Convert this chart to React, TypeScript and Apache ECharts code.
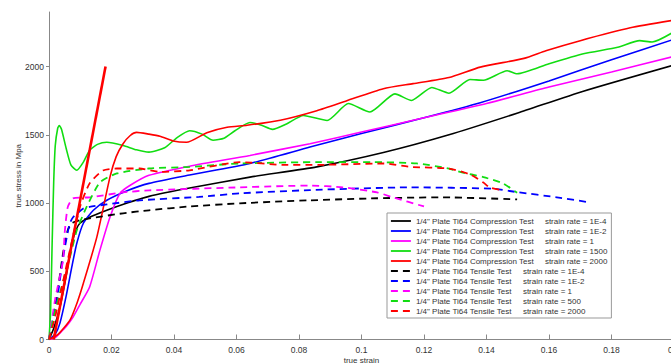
import React, { useEffect, useRef } from "react";
import * as echarts from "echarts";

type Pt = [number, number];

// true strain / true stress (MPa) pairs for each test
const compression1E4: Pt[] = [
  [0, 0], [0.0015, 80], [0.0035, 237], [0.0055, 470], [0.0073, 705], [0.0088, 810], [0.0099, 852],
  [0.013, 896], [0.0185, 947], [0.025, 1000], [0.032, 1049], [0.045, 1110], [0.0643, 1190],
  [0.0857, 1265], [0.107, 1370], [0.128, 1500], [0.15, 1660], [0.171, 1820], [0.2, 2012],
];
const compression1E2: Pt[] = [
  [0, 0], [0.002, 40], [0.0035, 120], [0.0055, 320], [0.0073, 532], [0.0089, 705], [0.011, 852],
  [0.0142, 947], [0.0185, 1020], [0.025, 1090], [0.032, 1144], [0.045, 1205], [0.0643, 1290],
  [0.0835, 1410], [0.1, 1510], [0.12, 1625], [0.138, 1735], [0.16, 1895], [0.18, 2050], [0.2, 2200],
];
const compression1: Pt[] = [
  [0, 0], [0.002, 15], [0.0035, 47], [0.0055, 95], [0.0077, 165], [0.01, 260], [0.013, 385],
  [0.0163, 655], [0.0195, 896], [0.0227, 1071], [0.026, 1130], [0.032, 1203], [0.045, 1270],
  [0.0643, 1349], [0.0835, 1435], [0.1, 1520], [0.12, 1625], [0.14, 1730], [0.16, 1850],
  [0.18, 1960], [0.2, 2075],
];
const compression1500: Pt[] = [
  [0, 0], [0.0005, 200], [0.001, 700], [0.0015, 1150], [0.002, 1420], [0.0028, 1550], [0.0033, 1568],
  [0.004, 1540], [0.0055, 1400], [0.007, 1280], [0.0089, 1240], [0.011, 1300], [0.013, 1387],
  [0.0155, 1430], [0.0185, 1446], [0.0237, 1422], [0.028, 1390], [0.032, 1373], [0.037, 1405],
  [0.041, 1480], [0.045, 1530], [0.049, 1505], [0.0525, 1460], [0.056, 1475], [0.0595, 1530],
  [0.0643, 1590], [0.068, 1570], [0.0715, 1540], [0.076, 1580], [0.0814, 1642], [0.089, 1605],
  [0.0958, 1729], [0.1027, 1667], [0.1107, 1800], [0.116, 1752], [0.1225, 1847], [0.128, 1805],
  [0.1347, 1905], [0.139, 1900], [0.1466, 1970], [0.1498, 1947], [0.16, 2021], [0.171, 2094],
  [0.182, 2141], [0.189, 2190], [0.193, 2180], [0.2, 2255],
];
const compression2000: Pt[] = [
  [0, 0], [0.003, 40], [0.0067, 142], [0.009, 270], [0.011, 412], [0.0153, 750], [0.0195, 1190],
  [0.0215, 1340], [0.0237, 1435], [0.026, 1495], [0.028, 1518], [0.032, 1505], [0.0355, 1490],
  [0.0397, 1455], [0.044, 1445], [0.0505, 1515], [0.057, 1555], [0.0634, 1570], [0.074, 1607],
  [0.0857, 1677], [0.0953, 1750], [0.107, 1838], [0.1165, 1875], [0.128, 1920], [0.138, 1996],
  [0.152, 2060], [0.159, 2116], [0.17, 2190], [0.186, 2284], [0.2, 2340],
];

const tensile1E4: Pt[] = [
  [0, 0], [0.0025, 313], [0.0045, 632], [0.006, 800], [0.0073, 852], [0.01, 875], [0.013, 888],
  [0.0237, 925], [0.032, 947], [0.045, 975], [0.061, 998], [0.0835, 1020], [0.105, 1035],
  [0.126, 1042], [0.1498, 1027],
];
const tensile1E2: Pt[] = [
  [0, 0], [0.0025, 280], [0.0045, 600], [0.0065, 840], [0.0077, 896], [0.011, 960], [0.013, 972],
  [0.0185, 990], [0.029, 1020], [0.048, 1045], [0.061, 1071], [0.0835, 1095], [0.1155, 1115],
  [0.142, 1105], [0.1498, 1080], [0.1625, 1042], [0.173, 1005],
];
const tensile1: Pt[] = [
  [0, 0], [0.002, 300], [0.0045, 580], [0.005, 777], [0.006, 970], [0.0077, 1034], [0.013, 1042],
  [0.0237, 1078], [0.032, 1093], [0.061, 1115], [0.0835, 1128], [0.094, 1115], [0.105, 1078],
  [0.11, 1042], [0.12, 975],
];
const tensile500: Pt[] = [
  [0, 0], [0.002, 215], [0.0067, 603], [0.0089, 800], [0.012, 970], [0.0163, 1151], [0.0217, 1217],
  [0.032, 1253], [0.045, 1265], [0.061, 1290], [0.0867, 1300], [0.1037, 1300], [0.1177, 1290],
  [0.128, 1253], [0.1315, 1228], [0.139, 1190], [0.1453, 1144], [0.1498, 1075],
];
const tensile2000: Pt[] = [
  [0, 0], [0.002, 168], [0.0067, 655], [0.0099, 970], [0.013, 1144], [0.0173, 1239], [0.0217, 1253],
  [0.029, 1253], [0.0355, 1228], [0.045, 1240], [0.061, 1300], [0.075, 1280], [0.0867, 1280],
  [0.107, 1290], [0.1155, 1265], [0.128, 1253], [0.1347, 1210], [0.139, 1150], [0.141, 1115],
  [0.1453, 1093],
];

// elastic modulus reference line
const modulusLine: Pt[] = [[0.0015, 0], [0.0181, 2000]];
const modulusLabel = "E=110MPa";

const stressTicks = [0, 500, 1000, 1500, 2000];

const seriesNames = [
  '1/4" Plate Ti64 Compression Test   strain rate = 1E-4',
  '1/4" Plate Ti64 Compression Test   strain rate = 1E-2',
  '1/4" Plate Ti64 Compression Test   strain rate = 1',
  '1/4" Plate Ti64 Compression Test   strain rate = 1500',
  '1/4" Plate Ti64 Compression Test   strain rate = 2000',
  '1/4" Plate Ti64 Tensile Test   strain rate = 1E-4',
  '1/4" Plate Ti64 Tensile Test   strain rate = 1E-2',
  '1/4" Plate Ti64 Tensile Test   strain rate = 1',
  '1/4" Plate Ti64 Tensile Test   strain rate = 500',
  '1/4" Plate Ti64 Tensile Test   strain rate = 2000',
];
const seriesData = [
  compression1E4, compression1E2, compression1, compression1500, compression2000,
  tensile1E4, tensile1E2, tensile1, tensile500, tensile2000,
];
const colors = ["#000000", "#0000ff", "#ff00ff", "#11dd11", "#ff0000"];
const DASH = [7, 5];

const FONT = "'Liberation Sans', Arial, sans-serif";

export default function App() {
  const ref = useRef<HTMLDivElement>(null);

  useEffect(() => {
    if (!ref.current) return;
    const chart = echarts.init(ref.current, undefined, { renderer: "svg" });

    const series: any[] = seriesData.map((data, i) => {
      const dashed = i >= 5;
      return {
        name: seriesNames[i],
        type: "line",
        data,
        showSymbol: false,
        symbol: "none",
        smooth: 0.2,
        z: dashed ? 3 : 2,
        lineStyle: {
          color: colors[i % 5],
          width: dashed ? 1.8 : 1.6,
          type: dashed ? DASH : "solid",
        },
        itemStyle: { color: colors[i % 5] },
      };
    });

    series.push({
      name: "modulus",
      type: "line",
      data: modulusLine.map((p, i) =>
        i === modulusLine.length - 1
          ? {
              value: p,
              label: {
                show: true,
                position: "right",
                distance: 1,
                formatter: modulusLabel,
                fontSize: 8.5,
                fontFamily: FONT,
                color: "#111",
              },
            }
          : p
      ),
      showSymbol: false,
      symbol: "none",
      z: 4,
      lineStyle: { color: "#ff0000", width: 2.6 },
      itemStyle: { color: "#ff0000" },
    });

    const legendData = seriesNames.map((name, i) => ({
      name,
      lineStyle: {
        color: colors[i % 5],
        width: 1.8,
        type: i >= 5 ? DASH : "solid",
      },
    }));

    chart.setOption({
      animation: false,
      backgroundColor: "#ffffff",
      grid: {
        left: 49,
        right: -3,
        top: 12,
        bottom: 24.5,
        containLabel: false,
        outerBoundsMode: "none",
      },
      xAxis: {
        type: "value",
        min: 0,
        max: 0.2,
        interval: 0.02,
        name: "true strain",
        nameLocation: "middle",
        nameGap: 17,
        nameMoveOverlap: false,
        nameTextStyle: { fontSize: 8, fontFamily: FONT, color: "#333" },
        axisLine: { show: true, onZero: false, lineStyle: { color: "#888", width: 1 } },
        axisTick: { show: true, inside: true, length: 5, lineStyle: { color: "#888" } },
        axisLabel: { fontSize: 8.5, fontFamily: FONT, color: "#333", margin: 6 },
        splitLine: { show: false },
      },
      yAxis: {
        type: "value",
        min: 0,
        max: 2400,
        interval: 500,
        name: "true stress in Mpa",
        nameLocation: "middle",
        nameGap: 27,
        nameMoveOverlap: false,
        nameTextStyle: { fontSize: 8, fontFamily: FONT, color: "#333" },
        axisLine: { show: true, lineStyle: { color: "#888", width: 1 } },
        axisTick: {
          show: true,
          inside: false,
          length: 3,
          customValues: stressTicks,
          lineStyle: { color: "#888" },
        },
        axisLabel: {
          fontSize: 8.5,
          fontFamily: FONT,
          color: "#333",
          margin: 5,
          customValues: stressTicks,
          formatter: (v: number) => String(v),
        },
        splitLine: { show: false },
      },
      legend: {
        data: legendData,
        orient: "vertical",
        left: 387,
        top: 213,
        itemWidth: 20,
        itemHeight: 9,
        itemGap: 2,
        padding: [4, 4, 3, 3],
        backgroundColor: "#ffffff",
        borderColor: "#999",
        borderWidth: 1,
        borderRadius: 0,
        selectedMode: false,
        itemStyle: { opacity: 0 },
        formatter: (name: string) => {
          const parts = name.split(/\s{2,}/);
          const key = name.includes("Compression") ? "c" : "t";
          return `{${key}|${parts[0]}}{r|${parts[1]}}`;
        },
        textStyle: {
          fontSize: 8,
          fontFamily: FONT,
          color: "#333",
          rich: {
            c: { width: 129, fontSize: 8, fontFamily: FONT, color: "#333", lineHeight: 9 },
            t: { width: 107, fontSize: 8, fontFamily: FONT, color: "#333", lineHeight: 9 },
            r: { fontSize: 8, fontFamily: FONT, color: "#333", lineHeight: 9 },
          },
        },
      },
      series,
    });

    return () => chart.dispose();
  }, []);

  return (
    <div
      ref={ref}
      style={{ position: "fixed", left: 0, top: 0, width: 671, height: 364, background: "#fff" }}
    />
  );
}
